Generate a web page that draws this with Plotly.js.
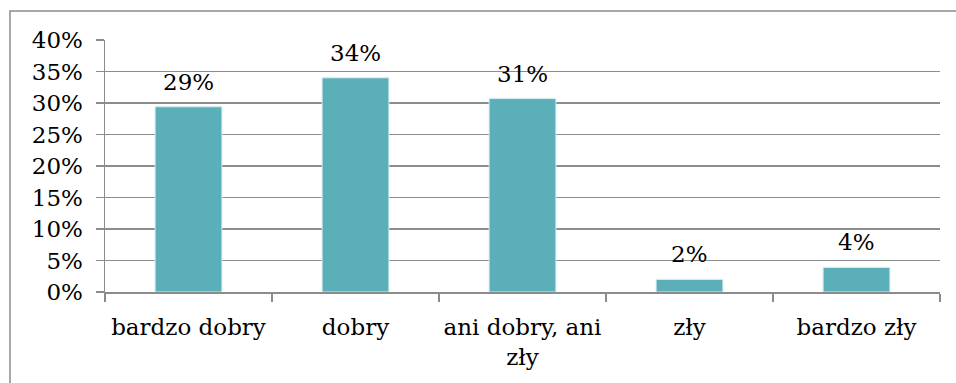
<!DOCTYPE html>
<html>
<head>
<meta charset="utf-8">
<script src="https://cdn.plot.ly/plotly-3.0.1.min.js"></script>
<style>
html,body{margin:0;padding:0;background:#fff;}
#chart{width:956px;height:383px;}
</style>
</head>
<body>
<div id="chart"></div>
<script>
const categories = ["bardzo dobry", "dobry", "ani dobry, ani<br>zły", "zły", "bardzo zły"];
const values = [0.294, 0.340, 0.307, 0.020, 0.039];
const labels = ["29%", "34%", "31%", "2%", "4%"];
const yTickVals = [0, 0.05, 0.10, 0.15, 0.20, 0.25, 0.30, 0.35, 0.40];
const yTickText = ["0%", "5%", "10%", "15%", "20%", "25%", "30%", "35%", "40%"];

const font = {family: "DejaVu Serif", size: 23, color: "#000"};
const gridColor = "#8c8c8c";

const trace = {
  type: "bar",
  x: categories,
  y: values,
  marker: {color: "#5aafb9", line: {color: "#d3ecef", width: 1}},
  width: 0.4,
  hoverinfo: "none"
};

const annotations = categories.map((c, i) => ({
  x: c, y: values[i], xref: "x", yref: "y",
  text: labels[i], showarrow: false,
  yanchor: "middle", yshift: 25,
  font: font
}));

const layout = {
  width: 956, height: 383,
  margin: {l: 105, r: 16, t: 40, b: 91, pad: 0},
  paper_bgcolor: "#fff", plot_bgcolor: "#fff",
  font: font,
  showlegend: false,
  bargap: 0.6,
  xaxis: {
    type: "category",
    showgrid: false,
    showline: true, linecolor: gridColor, linewidth: 1.5,
    ticks: "outside", tickson: "boundaries", ticklen: 8, tickcolor: gridColor, tickwidth: 1.5,
    ticklabelstandoff: 14,
    tickangle: 0,
    tickfont: font,
    automargin: false,
    fixedrange: true
  },
  yaxis: {
    range: [0, 0.40],
    tickvals: yTickVals, ticktext: yTickText,
    showgrid: true, gridcolor: gridColor, gridwidth: 1.5,
    showline: true, linecolor: gridColor, linewidth: 1.5,
    ticks: "outside", ticklen: 8, tickcolor: gridColor, tickwidth: 1.5,
    ticklabelstandoff: 8,
    zeroline: false,
    tickfont: font,
    automargin: false,
    fixedrange: true
  },
  annotations: annotations,
  shapes: [{
    type: "rect", xref: "paper", yref: "paper",
    x0: (10 - 105) / 835, x1: 1.2,
    y0: -0.6, y1: (292 - 11) / 252,
    line: {color: "#8c8c8c", width: 1.5},
    fillcolor: "rgba(0,0,0,0)",
    layer: "below"
  }]
};

Plotly.newPlot("chart", [trace], layout, {displayModeBar: false, staticPlot: true});
</script>
</body>
</html>
